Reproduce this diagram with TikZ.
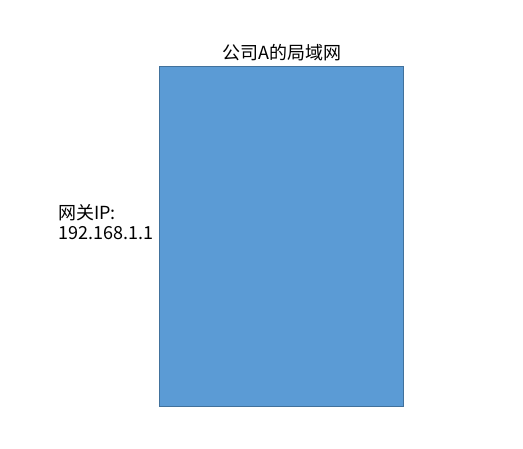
\documentclass[tikz,border=0pt]{standalone}
\usepackage{fontspec}
\setmainfont{Noto Sans CJK SC}
\usetikzlibrary{positioning}
\definecolor{lanblue}{HTML}{5B9BD5}
\definecolor{lanedge}{HTML}{41719C}
\begin{document}
\begin{tikzpicture}[x=1pt, y=1pt, every node/.style={font=\fontsize{18}{20}\selectfont, inner sep=0pt}]
	\useasboundingbox (0,0) rectangle (523,449);

	% the LAN as one big box
	\node[draw=lanedge, line width=1.2pt, fill=lanblue, minimum width=244pt, minimum height=340pt, anchor=south west] (lan) at (159,42) {};
	\node[above=5pt of lan.north] (title) {公司A的局域网};

	% gateway address
	\node[align=left, anchor=west] (gw) at (58,227) {网关IP:\\192.168.1.1};

\end{tikzpicture}
\end{document}
